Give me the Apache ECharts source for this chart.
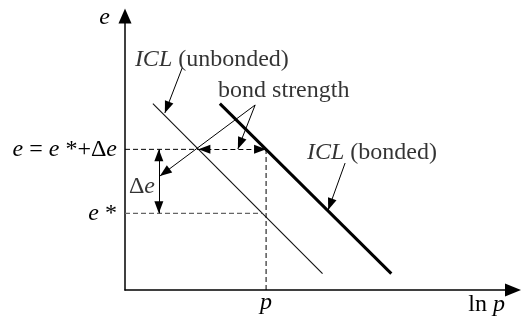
<!DOCTYPE html>
<html>
<head>
<meta charset="utf-8">
<script src="https://cdn.jsdelivr.net/npm/echarts@6/dist/echarts.min.js"></script>
<style>
  html, body { margin: 0; padding: 0; background: #fff; }
  #chart { width: 521px; height: 324px; }
</style>
</head>
<body>
<div id="chart"></div>
<script>
// Axis ranges: ln p horizontally, void ratio e vertically (schematic units)
const lnPRange = [0, 11];
const eRange = [0, 15];

// Reference states
const eStar = 4.2;              // e*
const eBonded = 7.7;            // e = e* + Δe
const pValue = 4.0;             // ln p of the bonded state on the bonded ICL
const lnPUnbondedAtE = 2.08;    // unbonded ICL at e
const lnPUnbondedAtEStar = 3.89; // unbonded ICL at e*

// Intrinsic compression lines, end points [ln p, e]
const iclUnbonded = [[0.79, 10.2], [5.6, 0.9]];
const iclBonded = [[2.69, 10.2], [7.55, 0.9]];

// Pointer arrows, [from, to]
const pointerUnbonded = [[1.62, 12.15], [1.13, 9.69]];
const pointerBonded = [[6.24, 6.95], [5.76, 4.38]];
const pointerStrengthToDe = [[3.69, 10.13], [0.99, 6.24]];
const pointerStrengthToGap = [[3.69, 10.13], [3.2, 7.72]];
const deArrowLnP = 0.96;

// Free text notes [ln p (left edge), e (middle), text]
const notes = [
  [0.28, 12.59, '{i|ICL} (unbonded)'],
  [2.64, 10.89, 'bond strength'],
  [5.16, 7.5, '{i|ICL} (bonded)'],
  [0.11, 5.64, 'Δ{i|e}']
];

// Tick labels
const eTickLabels = { [eStar]: '{i|e} *', [eBonded]: '{i|e} = {i|e} *+Δ{i|e}' };
const pTickLabel = '{i|p}';
const eAxisName = '{i|e}';
const pAxisName = 'ln {i|p}';

const FONT = 'Liberation Serif';
const FS = 24;
const INK = '#000';
const rich = {
  i: { fontFamily: FONT, fontSize: FS, fontStyle: 'italic', color: INK }
};
const textBase = { fontFamily: FONT, fontSize: FS, color: INK, rich: rich };

// Filled arrowhead, shifted back so its tip sits on the end point
function head(type) {
  return type === 'none'
    ? { symbol: 'none' }
    : { symbol: 'triangle', symbolSize: [9, 12], symbolOffset: [0, 6] };
}

function arrow(seg, symbols, dashed) {
  const style = dashed ? { lineStyle: { type: [5, 3] } } : {};
  return [
    { coord: seg[0], ...head(symbols[0]), ...style },
    { coord: seg[1], ...head(symbols[1]) }
  ];
}

const chart = echarts.init(document.getElementById('chart'), null, { renderer: 'canvas' });

chart.setOption({
  animation: false,
  backgroundColor: '#fff',
  grid: { left: 125, top: 16, right: 8, bottom: 34 },
  xAxis: {
    type: 'value',
    min: lnPRange[0], max: lnPRange[1],
    splitLine: { show: false },
    axisTick: { show: false },
    axisLine: {
      show: true, onZero: false,
      symbol: ['none', 'triangle'], symbolSize: [13, 16],
      lineStyle: { color: INK, width: 1.5 }
    },
    axisLabel: {
      customValues: [pValue],
      formatter: () => pTickLabel,
      margin: 1,
      ...textBase
    },
    name: pAxisName,
    nameLocation: 'end',
    nameGap: -8,
    nameTextStyle: { ...textBase, align: 'right', verticalAlign: 'top', padding: [3, 0, 0, 0] }
  },
  yAxis: {
    type: 'value',
    min: eRange[0], max: eRange[1],
    splitLine: { show: false },
    axisTick: { show: false },
    axisLine: {
      show: true, onZero: false,
      symbol: ['none', 'triangle'], symbolSize: [13, 15],
      lineStyle: { color: INK, width: 1.5 }
    },
    axisLabel: {
      customValues: [eStar, eBonded],
      formatter: (v) => eTickLabels[v] || '',
      margin: 8,
      ...textBase
    },
    name: eAxisName,
    nameLocation: 'end',
    nameGap: -2,
    nameTextStyle: { ...textBase, align: 'right', verticalAlign: 'middle', padding: [0, 15, 0, 0] }
  },
  series: [
    {
      name: 'ICL (unbonded)', type: 'line', data: iclUnbonded,
      symbol: 'none', silent: true,
      lineStyle: { color: '#111', width: 1.1 }
    },
    {
      name: 'ICL (bonded)', type: 'line', data: iclBonded,
      symbol: 'none', silent: true,
      lineStyle: { color: '#000', width: 3 }
    },
    {
      name: 'e guide', type: 'line',
      data: [[0, eBonded], [lnPUnbondedAtE, eBonded]],
      symbol: 'none', silent: true,
      lineStyle: { color: '#000', width: 1, type: [5, 3] }
    },
    {
      name: 'p guide', type: 'line',
      data: [[pValue, 0], [pValue, eBonded]],
      symbol: 'none', silent: true,
      lineStyle: { color: '#000', width: 1, type: [5, 3] }
    },
    {
      name: 'e* guide', type: 'line',
      data: [[0, eStar], [lnPUnbondedAtEStar, eStar]],
      symbol: 'none', silent: true,
      lineStyle: { color: '#666', width: 1.2, type: [5, 3] }
    },
    {
      name: 'notes', type: 'scatter',
      data: notes,
      symbolSize: 0, silent: true,
      label: {
        show: true, position: 'right', distance: 0,
        formatter: (p) => p.data[2],
        ...textBase
      },
      markLine: {
        silent: true,
        animation: false,
        label: { show: false },
        lineStyle: { color: INK, width: 1, type: 'solid' },
        data: [
          arrow(pointerUnbonded, ['none', 'triangle']),
          arrow(pointerBonded, ['none', 'triangle']),
          arrow(pointerStrengthToDe, ['none', 'triangle']),
          arrow(pointerStrengthToGap, ['none', 'triangle']),
          arrow([[deArrowLnP, eBonded], [deArrowLnP, eStar]], ['triangle', 'triangle']),
          arrow([[lnPUnbondedAtE, eBonded], [pValue, eBonded]], ['triangle', 'triangle'], true)
        ]
      }
    }
  ]
});
</script>
</body>
</html>
